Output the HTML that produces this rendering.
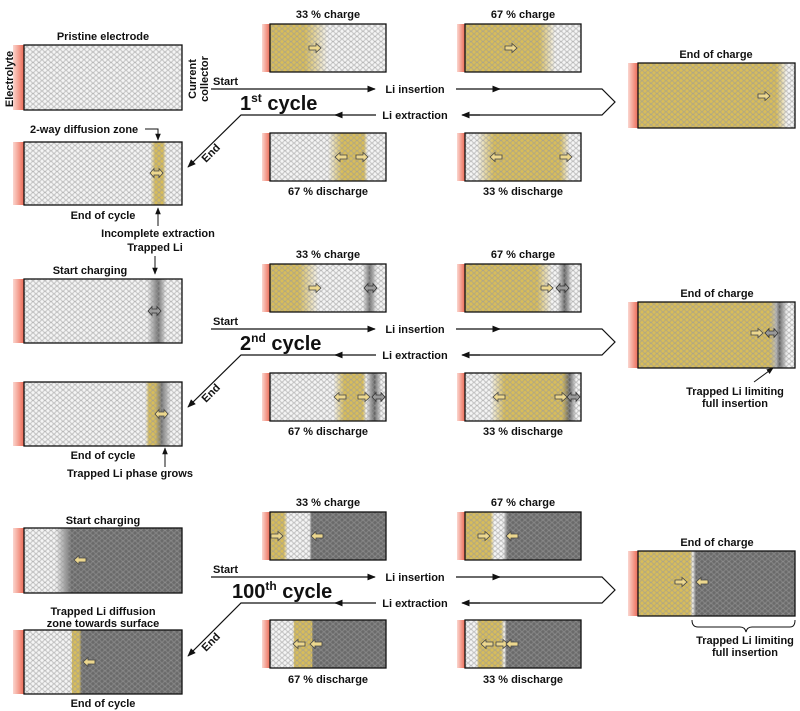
<!DOCTYPE html>
<html><head><meta charset="utf-8"><style>
html,body{margin:0;padding:0;background:#fff;width:800px;height:711px;overflow:hidden}
svg{display:block}
text{font-family:"Liberation Sans",sans-serif;font-weight:bold;fill:#111}
.l{font-size:11px}
.c{font-size:20px}
</style></head><body>
<svg width="800" height="711" viewBox="0 0 800 711" xmlns="http://www.w3.org/2000/svg">
<defs>
<pattern id="cells" width="6" height="5.2" patternUnits="userSpaceOnUse">
<circle cx="3" cy="2.6" r="2.4" fill="none" stroke="#999" stroke-width="0.5" opacity="0.6"/>
<circle cx="0" cy="0" r="2.4" fill="none" stroke="#999" stroke-width="0.5" opacity="0.6"/>
<circle cx="6" cy="0" r="2.4" fill="none" stroke="#999" stroke-width="0.5" opacity="0.6"/>
<circle cx="0" cy="5.2" r="2.4" fill="none" stroke="#999" stroke-width="0.5" opacity="0.6"/>
<circle cx="6" cy="5.2" r="2.4" fill="none" stroke="#999" stroke-width="0.5" opacity="0.6"/>
</pattern>
<linearGradient id="red" x1="0" x2="1"><stop offset="0" stop-color="#fbd6cf"/><stop offset="1" stop-color="#ec6a55"/></linearGradient>
<path id="ar" d="M0,-2 H7 V-4.5 L12,0 L7,4.5 V2 H0Z" fill="#ecd78e" stroke="#444" stroke-width="0.8"/>
<path id="arg" d="M0,-2 H7 V-4.5 L12,0 L7,4.5 V2 H0Z" fill="#8a8a8a" stroke="#333" stroke-width="0.8"/>
<path id="da" d="M0,0 L4,-4.5 V-2 H9 V-4.5 L13,0 L9,4.5 V2 H4 V4.5Z" fill="#ecd78e" stroke="#444" stroke-width="0.8"/>
<path id="dag" d="M0,0 L4,-4.5 V-2 H9 V-4.5 L13,0 L9,4.5 V2 H4 V4.5Z" fill="#999" stroke="#333" stroke-width="0.8"/>
<marker id="ah" viewBox="0 0 10 10" refX="9" refY="5" markerWidth="7" markerHeight="7" orient="auto"><path d="M0,1 L10,5 L0,9Z" fill="#111"/></marker>

<linearGradient id="gP"><stop offset="0" stop-color="#f5f5f5"/><stop offset="1" stop-color="#f5f5f5"/></linearGradient>
<linearGradient id="g1B"><stop offset=".8" stop-color="#f5f5f5"/><stop offset=".83" stop-color="#d8bd5a"/><stop offset=".88" stop-color="#d8bd5a"/><stop offset=".9" stop-color="#f5f5f5"/></linearGradient>
<linearGradient id="g1C"><stop offset=".3" stop-color="#d8bd5a"/><stop offset=".5" stop-color="#f5f5f5"/></linearGradient>
<linearGradient id="g1D"><stop offset=".64" stop-color="#d8bd5a"/><stop offset=".78" stop-color="#f5f5f5"/></linearGradient>
<linearGradient id="g1E"><stop offset=".5" stop-color="#f5f5f5"/><stop offset=".62" stop-color="#d8bd5a"/><stop offset=".81" stop-color="#d8bd5a"/><stop offset=".84" stop-color="#f5f5f5"/></linearGradient>
<linearGradient id="g1F"><stop offset=".1" stop-color="#f5f5f5"/><stop offset=".25" stop-color="#d8bd5a"/><stop offset=".82" stop-color="#d8bd5a"/><stop offset=".9" stop-color="#f5f5f5"/></linearGradient>
<linearGradient id="g1G"><stop offset=".88" stop-color="#d8bd5a"/><stop offset=".95" stop-color="#f5f5f5"/></linearGradient>

<linearGradient id="g2A"><stop offset=".78" stop-color="#f5f5f5"/><stop offset=".85" stop-color="#707070"/><stop offset=".9" stop-color="#f5f5f5"/></linearGradient>
<linearGradient id="g2B"><stop offset=".77" stop-color="#f5f5f5"/><stop offset=".79" stop-color="#d8bd5a"/><stop offset=".83" stop-color="#d8bd5a"/><stop offset=".87" stop-color="#707070"/><stop offset=".93" stop-color="#f5f5f5"/></linearGradient>
<linearGradient id="g2C"><stop offset=".25" stop-color="#d8bd5a"/><stop offset=".42" stop-color="#f5f5f5"/><stop offset=".8" stop-color="#f5f5f5"/><stop offset=".86" stop-color="#707070"/><stop offset=".92" stop-color="#f5f5f5"/></linearGradient>
<linearGradient id="g2D"><stop offset=".62" stop-color="#d8bd5a"/><stop offset=".75" stop-color="#f5f5f5"/><stop offset=".8" stop-color="#f5f5f5"/><stop offset=".86" stop-color="#606060"/><stop offset=".92" stop-color="#f5f5f5"/></linearGradient>
<linearGradient id="g2E"><stop offset=".55" stop-color="#f5f5f5"/><stop offset=".64" stop-color="#d8bd5a"/><stop offset=".8" stop-color="#d8bd5a"/><stop offset=".83" stop-color="#f5f5f5"/><stop offset=".9" stop-color="#606060"/><stop offset=".96" stop-color="#f5f5f5"/></linearGradient>
<linearGradient id="g2F"><stop offset=".22" stop-color="#f5f5f5"/><stop offset=".34" stop-color="#d8bd5a"/><stop offset=".84" stop-color="#d8bd5a"/><stop offset=".9" stop-color="#606060"/><stop offset=".96" stop-color="#f5f5f5"/></linearGradient>
<linearGradient id="g2G"><stop offset=".84" stop-color="#d8bd5a"/><stop offset=".88" stop-color="#bbb"/><stop offset=".9" stop-color="#606060"/><stop offset=".95" stop-color="#f5f5f5"/></linearGradient>

<linearGradient id="g3A"><stop offset=".2" stop-color="#f5f5f5"/><stop offset=".3" stop-color="#6a6a6a"/><stop offset="1" stop-color="#6a6a6a"/></linearGradient>
<linearGradient id="g3B"><stop offset=".3" stop-color="#f5f5f5"/><stop offset=".305" stop-color="#d8bd5a"/><stop offset=".35" stop-color="#d8bd5a"/><stop offset=".365" stop-color="#6a6a6a"/></linearGradient>
<linearGradient id="g3C"><stop offset=".12" stop-color="#d8bd5a"/><stop offset=".15" stop-color="#f5f5f5"/><stop offset=".34" stop-color="#f5f5f5"/><stop offset=".36" stop-color="#6a6a6a"/></linearGradient>
<linearGradient id="g3D"><stop offset=".22" stop-color="#d8bd5a"/><stop offset=".25" stop-color="#f5f5f5"/><stop offset=".33" stop-color="#f5f5f5"/><stop offset=".37" stop-color="#6a6a6a"/></linearGradient>
<linearGradient id="g3E"><stop offset=".2" stop-color="#f5f5f5"/><stop offset=".21" stop-color="#d8bd5a"/><stop offset=".36" stop-color="#d8bd5a"/><stop offset=".37" stop-color="#6a6a6a"/></linearGradient>
<linearGradient id="g3F"><stop offset=".1" stop-color="#f5f5f5"/><stop offset=".12" stop-color="#d8bd5a"/><stop offset=".31" stop-color="#d8bd5a"/><stop offset=".34" stop-color="#f5f5f5"/><stop offset=".36" stop-color="#6a6a6a"/></linearGradient>
<linearGradient id="g3G"><stop offset=".33" stop-color="#d8bd5a"/><stop offset=".35" stop-color="#eee"/><stop offset=".37" stop-color="#6a6a6a"/></linearGradient>
</defs>

<!-- ROW 1 -->
<g>
<rect x="13" y="45" width="11" height="65" fill="url(#red)"/><rect x="24" y="45" width="158" height="65" fill="url(#gP)"/><rect x="24" y="45" width="158" height="65" fill="url(#cells)" stroke="#111" stroke-width="1.3"/>
<rect x="13" y="142" width="11" height="63" fill="url(#red)"/><rect x="24" y="142" width="158" height="63" fill="url(#g1B)"/><rect x="24" y="142" width="158" height="63" fill="url(#cells)" stroke="#111" stroke-width="1.3"/>
<rect x="262" y="24" width="8" height="48" fill="url(#red)"/><rect x="270" y="24" width="116" height="48" fill="url(#g1C)"/><rect x="270" y="24" width="116" height="48" fill="url(#cells)" stroke="#111" stroke-width="1.3"/>
<rect x="457" y="24" width="8" height="48" fill="url(#red)"/><rect x="465" y="24" width="116" height="48" fill="url(#g1D)"/><rect x="465" y="24" width="116" height="48" fill="url(#cells)" stroke="#111" stroke-width="1.3"/>
<rect x="262" y="133" width="8" height="48" fill="url(#red)"/><rect x="270" y="133" width="116" height="48" fill="url(#g1E)"/><rect x="270" y="133" width="116" height="48" fill="url(#cells)" stroke="#111" stroke-width="1.3"/>
<rect x="457" y="133" width="8" height="48" fill="url(#red)"/><rect x="465" y="133" width="116" height="48" fill="url(#g1F)"/><rect x="465" y="133" width="116" height="48" fill="url(#cells)" stroke="#111" stroke-width="1.3"/>
<rect x="628" y="63" width="10" height="65" fill="url(#red)"/><rect x="638" y="63" width="157" height="65" fill="url(#g1G)"/><rect x="638" y="63" width="157" height="65" fill="url(#cells)" stroke="#111" stroke-width="1.3"/>
<use href="#ar" x="309" y="48"/><use href="#ar" x="505" y="48"/><use href="#ar" x="758" y="96"/>
<use href="#da" x="150" y="173"/>
<use href="#ar" transform="translate(347,157) scale(-1,1)"/><use href="#ar" x="356" y="157"/>
<use href="#ar" transform="translate(502,157) scale(-1,1)"/><use href="#ar" x="560" y="157"/>

<text class="l" x="103" y="40" text-anchor="middle">Pristine electrode</text>
<text class="l" transform="translate(13,79) rotate(-90)" text-anchor="middle">Electrolyte</text>
<text class="l" transform="translate(196,79) rotate(-90)" text-anchor="middle">Current</text>
<text class="l" transform="translate(208,79) rotate(-90)" text-anchor="middle">collector</text>
<text class="l" x="328" y="18" text-anchor="middle">33 % charge</text>
<text class="l" x="523" y="18" text-anchor="middle">67 % charge</text>
<text class="l" x="716" y="58" text-anchor="middle">End of charge</text>
<text class="l" x="328" y="195" text-anchor="middle">67 % discharge</text>
<text class="l" x="523" y="195" text-anchor="middle">33 % discharge</text>
<text class="l" x="30" y="133">2-way diffusion zone</text>
<path d="M145,129 H158 V140" fill="none" stroke="#111" stroke-width="1" marker-end="url(#ah)"/>
<text class="l" x="103" y="219" text-anchor="middle">End of cycle</text>
<path d="M158,226 V208" stroke="#111" stroke-width="1" marker-end="url(#ah)"/>
<text class="l" x="158" y="237" text-anchor="middle">Incomplete extraction</text>

<text class="l" x="213" y="85">Start</text>
<path d="M211,89 H375" stroke="#111" stroke-width="1.2" marker-end="url(#ah)"/>
<text class="l" x="415" y="93" text-anchor="middle">Li insertion</text>
<path d="M456,89 H500" stroke="#111" stroke-width="1.2" marker-end="url(#ah)"/>
<path d="M498,89 H602 L615,102 L602,115 H470" fill="none" stroke="#111" stroke-width="1.2"/>
<path d="M480,115 H462" stroke="#111" stroke-width="1.2" marker-end="url(#ah)"/>
<text class="l" x="415" y="119" text-anchor="middle">Li extraction</text>
<path d="M376,115 H335" stroke="#111" stroke-width="1.2" marker-end="url(#ah)"/>
<path d="M337,115 H241 L188,167" fill="none" stroke="#111" stroke-width="1.2" marker-end="url(#ah)"/>
<text class="c" x="240" y="110">1<tspan font-size="12" dy="-8">st</tspan><tspan dy="8"> cycle</tspan></text>
<text class="l" transform="translate(206,163) rotate(-45)">End</text>
</g>

<!-- ROW 2 -->
<g>
<rect x="13" y="279" width="11" height="64" fill="url(#red)"/><rect x="24" y="279" width="158" height="64" fill="url(#g2A)"/><rect x="24" y="279" width="158" height="64" fill="url(#cells)" stroke="#111" stroke-width="1.3"/>
<rect x="13" y="382" width="11" height="64" fill="url(#red)"/><rect x="24" y="382" width="158" height="64" fill="url(#g2B)"/><rect x="24" y="382" width="158" height="64" fill="url(#cells)" stroke="#111" stroke-width="1.3"/>
<rect x="262" y="264" width="8" height="48" fill="url(#red)"/><rect x="270" y="264" width="116" height="48" fill="url(#g2C)"/><rect x="270" y="264" width="116" height="48" fill="url(#cells)" stroke="#111" stroke-width="1.3"/>
<rect x="457" y="264" width="8" height="48" fill="url(#red)"/><rect x="465" y="264" width="116" height="48" fill="url(#g2D)"/><rect x="465" y="264" width="116" height="48" fill="url(#cells)" stroke="#111" stroke-width="1.3"/>
<rect x="262" y="373" width="8" height="48" fill="url(#red)"/><rect x="270" y="373" width="116" height="48" fill="url(#g2E)"/><rect x="270" y="373" width="116" height="48" fill="url(#cells)" stroke="#111" stroke-width="1.3"/>
<rect x="457" y="373" width="8" height="48" fill="url(#red)"/><rect x="465" y="373" width="116" height="48" fill="url(#g2F)"/><rect x="465" y="373" width="116" height="48" fill="url(#cells)" stroke="#111" stroke-width="1.3"/>
<rect x="628" y="302" width="10" height="66" fill="url(#red)"/><rect x="638" y="302" width="157" height="66" fill="url(#g2G)"/><rect x="638" y="302" width="157" height="66" fill="url(#cells)" stroke="#111" stroke-width="1.3"/>
<use href="#dag" x="148" y="311"/><use href="#da" x="155" y="414"/>
<use href="#ar" x="309" y="288"/><use href="#dag" x="364" y="288"/>
<use href="#ar" x="541" y="288"/><use href="#dag" x="556" y="288"/>
<use href="#ar" x="751" y="333"/><use href="#dag" x="765" y="333"/>
<use href="#ar" transform="translate(346,397) scale(-1,1)"/><use href="#ar" x="358" y="397"/><use href="#dag" x="372" y="397"/>
<use href="#ar" transform="translate(505,397) scale(-1,1)"/><use href="#ar" x="555" y="397"/><use href="#dag" x="567" y="397"/>

<text class="l" x="155" y="251" text-anchor="middle">Trapped Li</text>
<path d="M155,256 V274" stroke="#111" stroke-width="1" marker-end="url(#ah)"/>
<text class="l" x="90" y="274" text-anchor="middle">Start charging</text>
<text class="l" x="328" y="258" text-anchor="middle">33 % charge</text>
<text class="l" x="523" y="258" text-anchor="middle">67 % charge</text>
<text class="l" x="717" y="297" text-anchor="middle">End of charge</text>
<text class="l" x="328" y="435" text-anchor="middle">67 % discharge</text>
<text class="l" x="523" y="435" text-anchor="middle">33 % discharge</text>
<text class="l" x="103" y="459" text-anchor="middle">End of cycle</text>
<path d="M165,467 V448" stroke="#111" stroke-width="1" marker-end="url(#ah)"/>
<text class="l" x="130" y="477" text-anchor="middle">Trapped Li phase grows</text>
<path d="M754,382 L773,368" stroke="#111" stroke-width="1" marker-end="url(#ah)"/>
<text class="l" x="735" y="395" text-anchor="middle">Trapped Li limiting</text>
<text class="l" x="735" y="407" text-anchor="middle">full insertion</text>

<text class="l" x="213" y="325">Start</text>
<path d="M211,329 H375" stroke="#111" stroke-width="1.2" marker-end="url(#ah)"/>
<text class="l" x="415" y="333" text-anchor="middle">Li insertion</text>
<path d="M456,329 H500" stroke="#111" stroke-width="1.2" marker-end="url(#ah)"/>
<path d="M498,329 H602 L615,342 L602,355 H470" fill="none" stroke="#111" stroke-width="1.2"/>
<path d="M480,355 H462" stroke="#111" stroke-width="1.2" marker-end="url(#ah)"/>
<text class="l" x="415" y="359" text-anchor="middle">Li extraction</text>
<path d="M376,355 H335" stroke="#111" stroke-width="1.2" marker-end="url(#ah)"/>
<path d="M337,355 H241 L188,407" fill="none" stroke="#111" stroke-width="1.2" marker-end="url(#ah)"/>
<text class="c" x="240" y="350">2<tspan font-size="12" dy="-8">nd</tspan><tspan dy="8"> cycle</tspan></text>
<text class="l" transform="translate(206,403) rotate(-45)">End</text>
</g>

<!-- ROW 3 -->
<g>
<rect x="13" y="528" width="11" height="65" fill="url(#red)"/><rect x="24" y="528" width="158" height="65" fill="url(#g3A)"/><rect x="24" y="528" width="158" height="65" fill="url(#cells)" stroke="#111" stroke-width="1.3"/>
<rect x="13" y="630" width="11" height="64" fill="url(#red)"/><rect x="24" y="630" width="158" height="64" fill="url(#g3B)"/><rect x="24" y="630" width="158" height="64" fill="url(#cells)" stroke="#111" stroke-width="1.3"/>
<rect x="262" y="512" width="8" height="48" fill="url(#red)"/><rect x="270" y="512" width="116" height="48" fill="url(#g3C)"/><rect x="270" y="512" width="116" height="48" fill="url(#cells)" stroke="#111" stroke-width="1.3"/>
<rect x="457" y="512" width="8" height="48" fill="url(#red)"/><rect x="465" y="512" width="116" height="48" fill="url(#g3D)"/><rect x="465" y="512" width="116" height="48" fill="url(#cells)" stroke="#111" stroke-width="1.3"/>
<rect x="262" y="620" width="8" height="48" fill="url(#red)"/><rect x="270" y="620" width="116" height="48" fill="url(#g3E)"/><rect x="270" y="620" width="116" height="48" fill="url(#cells)" stroke="#111" stroke-width="1.3"/>
<rect x="457" y="620" width="8" height="48" fill="url(#red)"/><rect x="465" y="620" width="116" height="48" fill="url(#g3F)"/><rect x="465" y="620" width="116" height="48" fill="url(#cells)" stroke="#111" stroke-width="1.3"/>
<rect x="628" y="551" width="10" height="65" fill="url(#red)"/><rect x="638" y="551" width="157" height="65" fill="url(#g3G)"/><rect x="638" y="551" width="157" height="65" fill="url(#cells)" stroke="#111" stroke-width="1.3"/>
<use href="#ar" transform="translate(86,560) scale(-1,1)"/>
<use href="#ar" transform="translate(95,662) scale(-1,1)"/>
<use href="#ar" x="271" y="536"/><use href="#ar" transform="translate(323,536) scale(-1,1)"/>
<use href="#ar" x="478" y="536"/><use href="#ar" transform="translate(518,536) scale(-1,1)"/>
<use href="#ar" x="675" y="582"/><use href="#ar" transform="translate(708,582) scale(-1,1)"/>
<use href="#ar" transform="translate(305,644) scale(-1,1)"/><use href="#ar" transform="translate(322,644) scale(-1,1)"/>
<use href="#ar" transform="translate(493,644) scale(-1,1)"/><use href="#ar" x="496" y="644"/><use href="#ar" transform="translate(518,644) scale(-1,1)"/>

<text class="l" x="103" y="524" text-anchor="middle">Start charging</text>
<text class="l" x="328" y="506" text-anchor="middle">33 % charge</text>
<text class="l" x="523" y="506" text-anchor="middle">67 % charge</text>
<text class="l" x="717" y="546" text-anchor="middle">End of charge</text>
<text class="l" x="328" y="683" text-anchor="middle">67 % discharge</text>
<text class="l" x="523" y="683" text-anchor="middle">33 % discharge</text>
<text class="l" x="103" y="615" text-anchor="middle">Trapped Li diffusion</text>
<text class="l" x="103" y="627" text-anchor="middle">zone towards surface</text>
<text class="l" x="103" y="707" text-anchor="middle">End of cycle</text>
<path d="M692,620 Q692,627 698,627 H740 Q745,627 746,632 Q747,627 752,627 H790 Q795,627 795,620" fill="none" stroke="#111" stroke-width="1"/>
<text class="l" x="745" y="644" text-anchor="middle">Trapped Li limiting</text>
<text class="l" x="745" y="656" text-anchor="middle">full insertion</text>

<text class="l" x="213" y="573">Start</text>
<path d="M211,577 H375" stroke="#111" stroke-width="1.2" marker-end="url(#ah)"/>
<text class="l" x="415" y="581" text-anchor="middle">Li insertion</text>
<path d="M456,577 H500" stroke="#111" stroke-width="1.2" marker-end="url(#ah)"/>
<path d="M498,577 H602 L615,590 L602,603 H470" fill="none" stroke="#111" stroke-width="1.2"/>
<path d="M480,603 H462" stroke="#111" stroke-width="1.2" marker-end="url(#ah)"/>
<text class="l" x="415" y="607" text-anchor="middle">Li extraction</text>
<path d="M376,603 H335" stroke="#111" stroke-width="1.2" marker-end="url(#ah)"/>
<path d="M337,603 H241 L188,656" fill="none" stroke="#111" stroke-width="1.2" marker-end="url(#ah)"/>
<text class="c" x="232" y="598">100<tspan font-size="12" dy="-8">th</tspan><tspan dy="8"> cycle</tspan></text>
<text class="l" transform="translate(206,652) rotate(-45)">End</text>
</g>
</svg>
</body></html>
